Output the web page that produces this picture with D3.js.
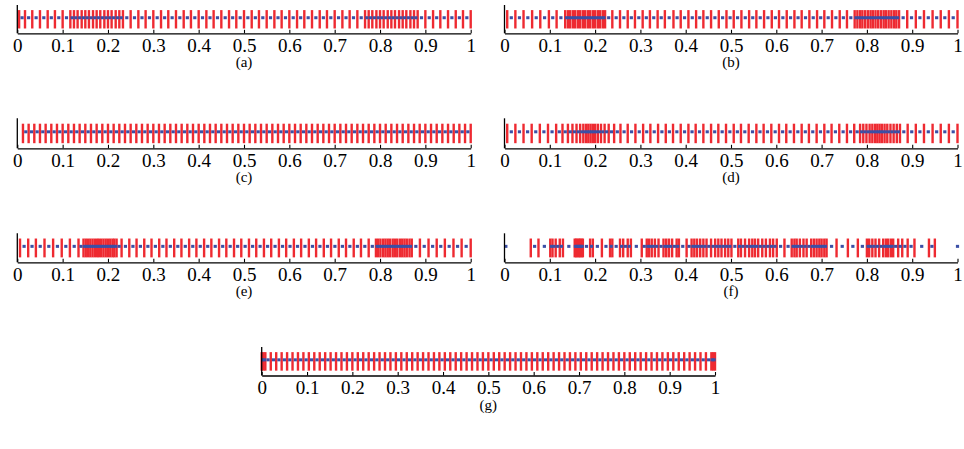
<!DOCTYPE html>
<html>
<head>
<meta charset="utf-8">
<script src="https://cdn.jsdelivr.net/npm/d3@7"></script>
<style>
  html, body { margin: 0; padding: 0; background: #fff; }
  svg { display: block; }
</style>
</head>
<body>
<div id="chart"></div>
<script>
// tick values / labels shared by every strip
const tickValues = [0, 0.1, 0.2, 0.3, 0.4, 0.5, 0.6, 0.7, 0.8, 0.9, 1];
const tickLabels = ["0", "0.1", "0.2", "0.3", "0.4", "0.5", "0.6", "0.7", "0.8", "0.9", "1"];
const captions = ["(a)", "(b)", "(c)", "(d)", "(e)", "(f)", "(g)"];

// red cell boundaries
const pointsA = [0.004, 0.017, 0.033, 0.050, 0.067, 0.083, 0.100, 0.117,
    0.125, 0.133, 0.142, 0.150, 0.158, 0.167, 0.175, 0.183, 0.192, 0.200, 0.208, 0.217, 0.225, 0.233,
    0.250, 0.267, 0.283, 0.300, 0.317, 0.333, 0.350, 0.367, 0.383, 0.400, 0.417, 0.433, 0.450, 0.467,
    0.483, 0.500, 0.517, 0.533, 0.550, 0.567, 0.583, 0.600, 0.617, 0.633, 0.650, 0.667, 0.683, 0.700,
    0.717, 0.733, 0.750, 0.767,
    0.775, 0.783, 0.792, 0.800, 0.808, 0.817, 0.825, 0.833, 0.842, 0.850, 0.858, 0.867, 0.875,
    0.883, 0.900, 0.917, 0.933, 0.950, 0.967, 0.983, 1.000];

const pointsB = [0.006, 0.024, 0.042, 0.061, 0.079, 0.098, 0.115,
    0.134, 0.140, 0.145, 0.151, 0.156, 0.162, 0.167, 0.173, 0.178, 0.184, 0.189, 0.195, 0.200, 0.206, 0.211, 0.217, 0.222,
    0.238, 0.255, 0.272, 0.288, 0.305, 0.321, 0.338, 0.354, 0.373, 0.389, 0.406, 0.423, 0.439, 0.456, 0.473, 0.490,
    0.506, 0.523, 0.540, 0.556, 0.573, 0.590, 0.606, 0.623, 0.640, 0.656, 0.673, 0.690, 0.706, 0.723, 0.740, 0.756, 0.773,
    0.779, 0.785, 0.790, 0.796, 0.802, 0.808, 0.813, 0.819, 0.825, 0.831, 0.837, 0.842, 0.848, 0.854, 0.860, 0.865, 0.871,
    0.889, 0.908, 0.926, 0.945, 0.963, 0.981, 1.000];

const pointsC = [0.0125, 0.025, 0.0375, 0.05, 0.0625, 0.075, 0.0875, 0.1, 0.1125, 0.125, 0.1375, 0.15,
    0.1625, 0.175, 0.1875, 0.2, 0.2125, 0.225, 0.2375, 0.25, 0.2625, 0.275, 0.2875, 0.3, 0.3125, 0.325,
    0.3375, 0.35, 0.3625, 0.375, 0.3875, 0.4, 0.4125, 0.425, 0.4375, 0.45, 0.4625, 0.475, 0.4875, 0.5,
    0.5125, 0.525, 0.5375, 0.55, 0.5625, 0.575, 0.5875, 0.6, 0.6125, 0.625, 0.6375, 0.65, 0.6625, 0.675,
    0.6875, 0.7, 0.7125, 0.725, 0.7375, 0.75, 0.7625, 0.775, 0.7875, 0.8, 0.8125, 0.825, 0.8375, 0.85,
    0.8625, 0.875, 0.8875, 0.9, 0.9125, 0.925, 0.9375, 0.95, 0.9625, 0.975, 0.9875, 1];

const pointsD = [0.006, 0.024, 0.042, 0.060, 0.078, 0.096, 0.114,
    0.128, 0.140, 0.150, 0.159, 0.167, 0.174, 0.180, 0.185, 0.190, 0.195, 0.200, 0.206, 0.213, 0.221, 0.230, 0.242, 0.256,
    0.272, 0.289, 0.306, 0.322, 0.339, 0.356, 0.372, 0.389, 0.406, 0.422, 0.439, 0.456, 0.472, 0.489, 0.506, 0.522,
    0.539, 0.556, 0.572, 0.589, 0.606, 0.622, 0.639, 0.656, 0.672, 0.689, 0.706, 0.722, 0.739, 0.756, 0.772,
    0.785, 0.792, 0.799, 0.806, 0.812, 0.818, 0.823, 0.828, 0.833, 0.839, 0.845, 0.852, 0.859, 0.866, 0.873,
    0.890, 0.908, 0.926, 0.945, 0.963, 0.981, 1.000];

const pointsE = [0.006, 0.024, 0.041, 0.060, 0.079, 0.098, 0.116, 0.135,
    0.146, 0.151, 0.156, 0.161, 0.166, 0.171, 0.176, 0.180, 0.185, 0.190, 0.195, 0.200, 0.205, 0.210, 0.214, 0.219,
    0.230, 0.247, 0.263, 0.280, 0.296, 0.313, 0.329, 0.346, 0.362, 0.379, 0.395, 0.412, 0.428, 0.445, 0.461, 0.478,
    0.494, 0.511, 0.527, 0.544, 0.560, 0.577, 0.593, 0.610, 0.626, 0.643, 0.659, 0.676, 0.692, 0.709, 0.725, 0.742,
    0.758, 0.775,
    0.791, 0.796, 0.801, 0.807, 0.812, 0.817, 0.822, 0.828, 0.833, 0.838, 0.844, 0.849, 0.854, 0.859, 0.865, 0.870,
    0.888, 0.907, 0.925, 0.943, 0.962, 0.980, 1.000];

const pointsF = [0.058, 0.075, 0.101, 0.106, 0.113, 0.122, 0.129,
    0.155, 0.158, 0.161, 0.164, 0.167, 0.170, 0.173, 0.189, 0.195,
    0.215, 0.233, 0.238, 0.255, 0.262, 0.272, 0.279, 0.303, 0.314, 0.319, 0.325, 0.332, 0.340,
    0.351, 0.357, 0.363, 0.370, 0.380, 0.385, 0.402, 0.413, 0.419, 0.425, 0.432, 0.439, 0.446,
    0.456, 0.465, 0.472, 0.479, 0.487, 0.494, 0.501, 0.516, 0.522, 0.531, 0.540, 0.547, 0.553,
    0.560, 0.569, 0.577, 0.586, 0.593, 0.601, 0.618, 0.634, 0.640, 0.645, 0.652, 0.660, 0.667,
    0.677, 0.683, 0.689, 0.695, 0.700, 0.706, 0.711, 0.733, 0.758, 0.780, 0.800, 0.805, 0.812,
    0.819, 0.827, 0.836, 0.842, 0.847, 0.853, 0.858, 0.869, 0.878, 0.890, 0.905, 0.937, 0.950];
const extraNodesF = [0.003, 1.0];

const pointsG = [0, 0.004, 0.008, 0.020, 0.032, 0.044, 0.056, 0.068, 0.080, 0.092, 0.104, 0.116, 0.128,
    0.140, 0.152, 0.164, 0.176, 0.188, 0.200, 0.212, 0.224, 0.236, 0.248, 0.260, 0.272, 0.284, 0.296,
    0.308, 0.320, 0.332, 0.344, 0.356, 0.368, 0.380, 0.392, 0.404, 0.416, 0.428, 0.440, 0.452, 0.464,
    0.476, 0.488, 0.500, 0.512, 0.524, 0.536, 0.548, 0.560, 0.572, 0.584, 0.596, 0.608, 0.620, 0.632,
    0.644, 0.656, 0.668, 0.680, 0.692, 0.704, 0.716, 0.728, 0.740, 0.752, 0.764, 0.776, 0.788, 0.800,
    0.812, 0.824, 0.836, 0.848, 0.860, 0.872, 0.884, 0.896, 0.908, 0.920, 0.932, 0.944, 0.956, 0.968,
    0.980, 0.992, 0.996, 1];

const pointSets = [pointsA, pointsB, pointsC, pointsD, pointsE, pointsF, pointsG];
const extraNodes = [[], [], [], [], [], extraNodesF, []];

// layout of the seven strips (pixels)
const W = 964, H = 449;
const panels = [
    { x0: 17.3, x1: 470.7, top: 5, axis: 33.3 },
    { x0: 504.5, x1: 957.5, top: 5, axis: 33.3 },
    { x0: 17.3, x1: 470.7, top: 118.3, axis: 148.3 },
    { x0: 504.5, x1: 957.5, top: 118.3, axis: 148.3 },
    { x0: 17.3, x1: 470.7, top: 233.3, axis: 262.3 },
    { x0: 504.5, x1: 957.5, top: 233.3, axis: 262.3 },
    { x0: 261.7, x1: 715, top: 347, axis: 375.5 }
];

const red = "#ee2a31";
const blue = "#3b4fa6";
const serif = "'Liberation Serif', 'DejaVu Serif', serif";

const svg = d3.select("#chart").append("svg")
    .attr("width", W)
    .attr("height", H)
    .attr("viewBox", [0, 0, W, H]);

panels.forEach((p, i) => {
    const x = d3.scaleLinear().domain([0, 1]).range([p.x0, p.x1]);
    const y = d3.scaleLinear().domain([0, 1]).range([p.axis, p.top]);
    const g = svg.append("g");
    const pts = pointSets[i];

    // red boundaries
    g.selectAll(".bound")
        .data(pts)
        .join("line")
        .attr("class", "bound")
        .attr("x1", d => x(d)).attr("x2", d => x(d))
        .attr("y1", y(0.17)).attr("y2", y(0.82))
        .attr("stroke", red)
        .attr("stroke-width", 2.4);

    // blue nodes sit in the middle of every cell
    const nodes = d3.pairs(pts).map(([a, b]) => (a + b) / 2).concat(extraNodes[i]);
    g.selectAll(".node")
        .data(nodes)
        .join("rect")
        .attr("class", "node")
        .attr("x", d => x(d) - 1.6)
        .attr("y", y(0.55) - 1.5)
        .attr("width", 3.2)
        .attr("height", 3)
        .attr("fill", blue);

    // axes
    const ax = g.append("g")
        .attr("transform", `translate(0,${p.axis})`)
        .call(d3.axisBottom(x)
            .tickValues(tickValues)
            .tickFormat((d, k) => tickLabels[k])
            .tickSizeInner(-3.5)
            .tickSizeOuter(0)
            .tickPadding(5));
    ax.select(".domain").attr("stroke", "#000").attr("stroke-width", 1.3);
    ax.selectAll(".tick line").attr("stroke", "#000").attr("stroke-width", 1.1);
    ax.selectAll("text")
        .style("font-family", serif)
        .style("font-size", "19px")
        .attr("fill", "#000");

    g.append("line")
        .attr("x1", p.x0).attr("x2", p.x0)
        .attr("y1", p.top).attr("y2", p.axis)
        .attr("stroke", "#000")
        .attr("stroke-width", 1.3);

    g.append("text")
        .attr("x", (p.x0 + p.x1) / 2)
        .attr("y", p.axis + 34)
        .attr("text-anchor", "middle")
        .style("font-family", serif)
        .style("font-size", "15px")
        .text(captions[i]);
});
</script>
</body>
</html>
